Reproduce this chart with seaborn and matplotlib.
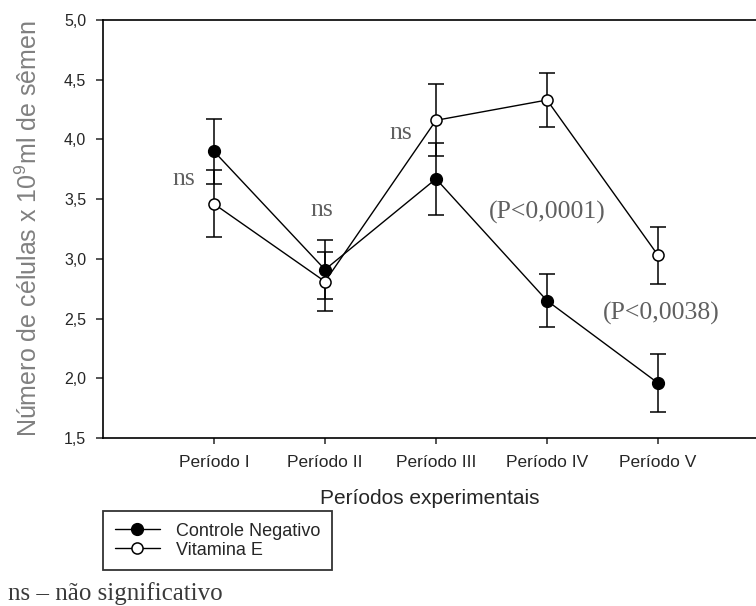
import matplotlib
matplotlib.use("Agg")
import matplotlib.pyplot as plt
from matplotlib.ticker import FuncFormatter
import seaborn as sns
import pandas as pd

# Mean sperm concentration per experimental period, with standard errors
periodos = ["Período I", "Período II", "Período III", "Período IV", "Período V"]
posicoes = [1, 2, 3, 4, 5]
controle_media = [3.90, 2.91, 3.67, 2.65, 1.96]
controle_erro = [0.27, 0.25, 0.30, 0.22, 0.24]
vitamina_media = [3.46, 2.81, 4.16, 4.33, 3.03]
vitamina_erro = [0.28, 0.25, 0.30, 0.23, 0.24]

# Significance labels: (text, x, y)
notas = [
    ("ns", 0.73, 3.62),
    ("ns", 1.97, 3.36),
    ("ns", 2.68, 4.00),
    ("(P<0,0001)", 4.00, 3.34),
    ("(P<0,0038)", 5.03, 2.49),
]

sns.set_style("ticks")
plt.rcParams["font.family"] = ["Liberation Sans", "DejaVu Sans"]
plt.rcParams["mathtext.fontset"] = "custom"
plt.rcParams["mathtext.rm"] = "Liberation Sans"
plt.rcParams["mathtext.it"] = "Liberation Sans"

df_ctrl = pd.DataFrame({"periodo": posicoes, "valor": controle_media})
df_vit = pd.DataFrame({"periodo": posicoes, "valor": vitamina_media})

W, H = 756, 606
fig = plt.figure(figsize=(W / 100, H / 100), dpi=100)
ax = fig.add_axes([103 / W, 1 - 438 / H, (W - 103) / W, (438 - 20) / H])

# Error bars drawn underneath the markers
ax.errorbar(posicoes, controle_media, yerr=controle_erro, fmt="none",
            ecolor="black", elinewidth=1.1, capsize=5.5, capthick=1.1, zorder=2)
ax.errorbar(posicoes, vitamina_media, yerr=vitamina_erro, fmt="none",
            ecolor="black", elinewidth=1.1, capsize=5.5, capthick=1.1, zorder=2)

sns.lineplot(data=df_ctrl, x="periodo", y="valor", ax=ax, color="black",
             linewidth=1.0, marker="o", markersize=8.5, markerfacecolor="black",
             markeredgecolor="black", markeredgewidth=1.0,
             label="Controle Negativo", zorder=4, legend=False)
sns.lineplot(data=df_vit, x="periodo", y="valor", ax=ax, color="black",
             linewidth=1.0, marker="o", markersize=8, markerfacecolor="white",
             markeredgecolor="black", markeredgewidth=1.1,
             label="Vitamina E", zorder=4, legend=False)

ax.set_xlim(0, (W - 103) / 111)
ax.set_ylim(1.5, 5.0)
ax.set_xticks(posicoes)
ax.set_xticklabels(periodos, fontsize=12.5)
ax.set_yticks([1.5, 2.0, 2.5, 3.0, 3.5, 4.0, 4.5, 5.0])
ax.yaxis.set_major_formatter(FuncFormatter(lambda v, p: f"{v:.1f}".replace(".", ",")))
ax.tick_params(axis="y", labelsize=11.5, direction="out", length=5, width=1.1, pad=7)
ax.tick_params(axis="x", direction="out", length=4, width=1.1, pad=8)

for side in ["left", "bottom", "top"]:
    ax.spines[side].set_linewidth(1.2)
    ax.spines[side].set_color("black")
ax.spines["right"].set_visible(False)

ax.set_xlabel("Períodos experimentais", fontsize=15, labelpad=14)
ax.set_ylabel("Número de células x 10$^9$ml de sêmen", fontsize=18,
              color="#808080")
ax.yaxis.set_label_coords(-0.094, 0.5)

for texto, x, y in notas:
    ax.text(x, y, texto, ha="center", va="baseline", fontsize=18.5,
            family=["Liberation Serif", "DejaVu Serif"], color="#606060")

handles, labels = ax.get_legend_handles_labels()
leg = fig.legend(handles, labels, loc="upper left",
                 bbox_to_anchor=(103 / W, 1 - 511 / H), borderaxespad=0,
                 fontsize=13, frameon=True, fancybox=False, shadow=False,
                 handlelength=2.5, handletextpad=0.9, labelspacing=0.1,
                 borderpad=0.65)
leg.get_frame().set_edgecolor("black")
leg.get_frame().set_linewidth(1.3)

fig.text(8 / W, 1 - 600 / H, "ns – não significativo", ha="left", va="baseline",
         fontsize=18, family=["Liberation Serif", "DejaVu Serif"], color="#3a3a3a")

fig.savefig("out.png", dpi=100)
